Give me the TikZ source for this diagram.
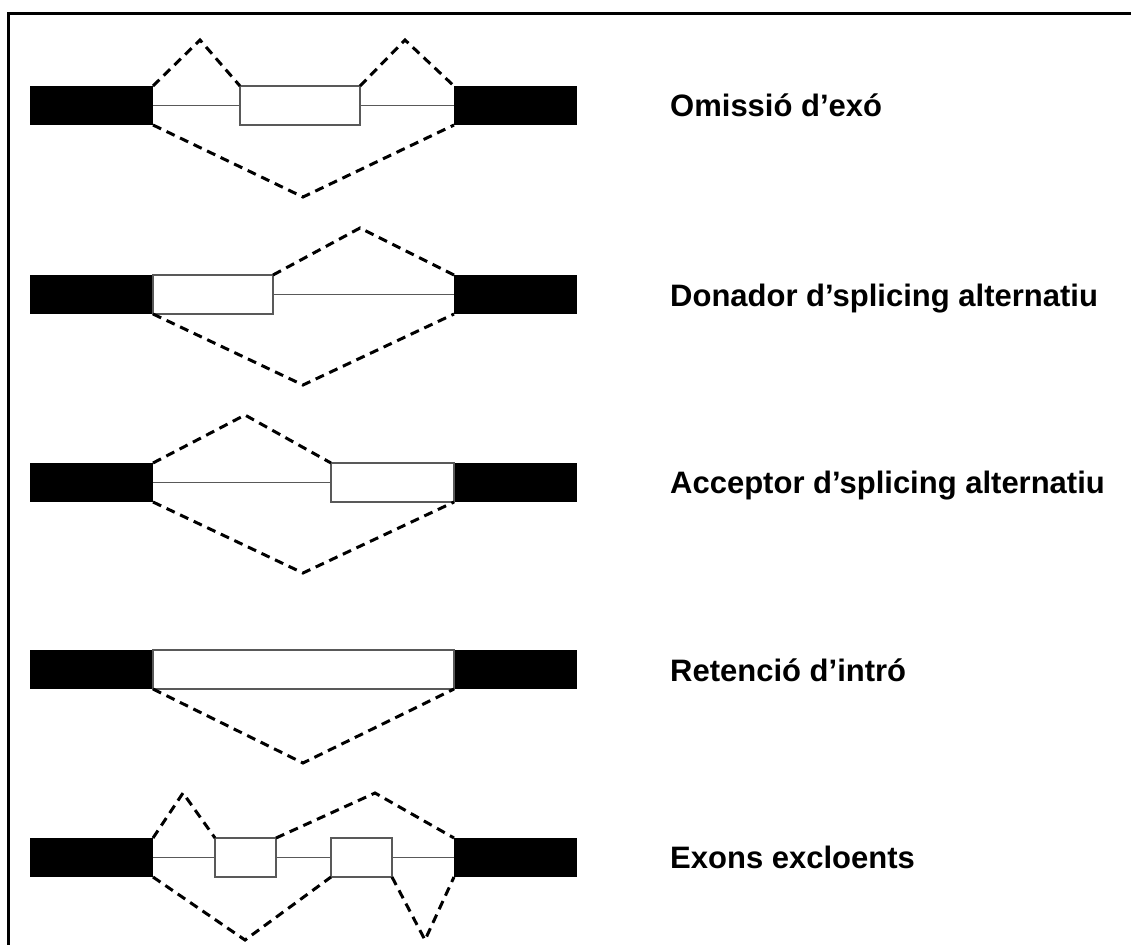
\documentclass[tikz,border=0pt]{standalone}
\usepackage{fontspec}
\setmainfont{Liberation Sans}
\begin{document}
\begin{tikzpicture}[x=1pt,y=-1pt,
  blk/.style={fill=black, draw=none, inner sep=0pt, outer sep=0pt, anchor=north west, minimum height=39pt, minimum width=123pt},
  wex/.style={draw=black!65, line width=1.6pt, fill=white, inner sep=0pt, outer sep=0pt, anchor=north west, minimum height=39pt},
  intr/.style={draw=black!65, line width=1.6pt},
  spl/.style={draw=black, line width=3pt, dash pattern=on 9pt off 6pt},
  lbl/.style={anchor=base west, inner sep=0pt, font=\fontsize{31pt}{36pt}\selectfont\bfseries}]
\useasboundingbox (0,0) rectangle (1131,945);
\fill[white] (0,0) rectangle (1131,945);
\draw[line width=3pt] (1131,13.5) -- (8,13.5) -- (8,945);

% Row 1: exon skipping
\node[blk] (a1) at (30,86) {};
\node[blk] (a2) at (454,86) {};
\node[wex, minimum width=120pt] (ae) at (240,86) {};
\draw[intr] (a1.east) -- (ae.west);
\draw[intr] (ae.east) -- (a2.west);
\coordinate (ap1) at (200,40);
\coordinate (ap2) at (405,40);
\coordinate (av) at (303,197);
\draw[spl] (a1.north east) -- (ap1) -- (ae.north west);
\draw[spl] (ae.north east) -- (ap2) -- (a2.north west);
\draw[spl] (a1.south east) -- (av) -- (a2.south west);
\node[lbl] (at) at (670,116) {Omissió d’exó};

% Row 2: alternative donor
\node[blk] (b1) at (30,275) {};
\node[blk] (b2) at (454,275) {};
\node[wex, minimum width=120pt] (be) at (153,275) {};
\draw[intr] (be.east) -- (b2.west);
\coordinate (bp) at (360,228);
\coordinate (bv) at (303,385);
\draw[spl] (be.north east) -- (bp) -- (b2.north west);
\draw[spl] (b1.south east) -- (bv) -- (b2.south west);
\node[lbl] (bt) at (670,306) {Donador d’splicing alternatiu};

% Row 3: alternative acceptor
\node[blk] (c1) at (30,463) {};
\node[blk] (c2) at (454,463) {};
\node[wex, minimum width=123pt] (ce) at (331,463) {};
\draw[intr] (c1.east) -- (ce.west);
\coordinate (cp) at (245,415);
\coordinate (cv) at (303,573);
\draw[spl] (c1.north east) -- (cp) -- (ce.north west);
\draw[spl] (c1.south east) -- (cv) -- (c2.south west);
\node[lbl] (ct) at (670,493) {Acceptor d’splicing alternatiu};

% Row 4: intron retention
\node[blk] (d1) at (30,650) {};
\node[blk] (d2) at (454,650) {};
\node[wex, minimum width=301pt] (de) at (153,650) {};
\coordinate (dv) at (303,763);
\draw[spl] (d1.south east) -- (dv) -- (d2.south west);
\node[lbl] (dt) at (670,681) {Retenció d’intró};

% Row 5: mutually exclusive exons
\node[blk] (e1) at (30,838) {};
\node[blk] (e2) at (454,838) {};
\node[wex, minimum width=61pt] (ex1) at (215,838) {};
\node[wex, minimum width=61pt] (ex2) at (331,838) {};
\draw[intr] (e1.east) -- (ex1.west);
\draw[intr] (ex1.east) -- (ex2.west);
\draw[intr] (ex2.east) -- (e2.west);
\coordinate (ep1) at (183,793);
\coordinate (ep2) at (375,793);
\coordinate (ev1) at (245,940);
\coordinate (ev2) at (425,940);
\draw[spl] (e1.north east) -- (ep1) -- (ex1.north west);
\draw[spl] (ex1.north east) -- (ep2) -- (e2.north west);
\draw[spl] (e1.south east) -- (ev1) -- (ex2.south west);
\draw[spl] (ex2.south east) -- (ev2) -- (e2.south west);
\node[lbl] (et) at (670,868) {Exons excloents};
\end{tikzpicture}
\end{document}
